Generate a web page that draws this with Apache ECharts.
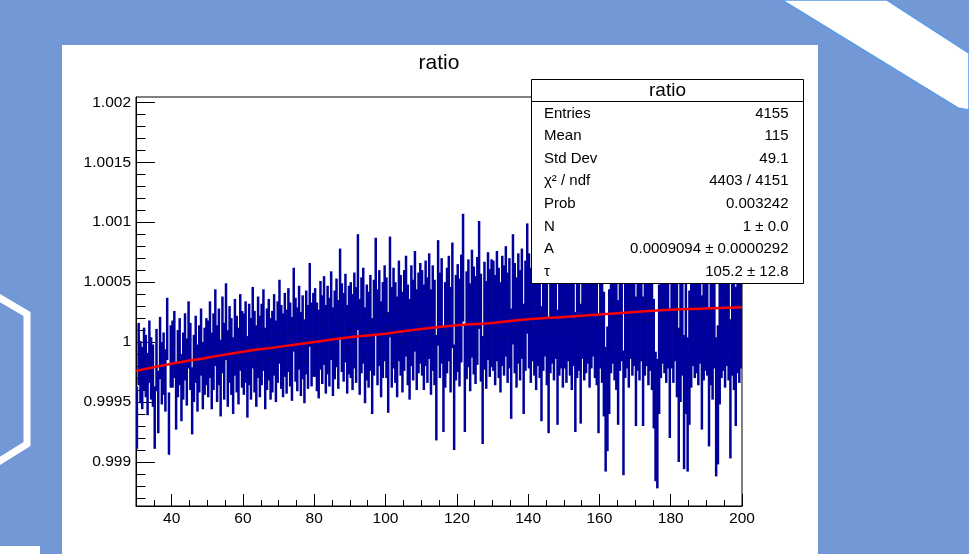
<!DOCTYPE html>
<html><head><meta charset="utf-8">
<script src="https://cdn.jsdelivr.net/npm/echarts@6/dist/echarts.min.js"></script>
<style>html,body{margin:0;padding:0;background:#7398d6}#c{width:969px;height:554px}</style>
</head><body><div id="c"></div>
<script>
// ---------- data ----------
const binStart = 30, binWidth = 0.5;          // histogram bins: 30 .. 200
const DEV_UNIT = 1e-5;                         // bin contents stored as (value - 1) / 1e-5
const binDev = [
 -63,-10,-25,-30,-14,-20,-35,-8,-22,-28,-63,-15,-50,-5,-26,-18,-32,11,-68,-12,
 -10,-2,-45,-18,-8,-38,-20,-4,-25,6,-12,-49,-22,-6,-30,-14,0,-28,-16,-8,
 -14,2,-24,-8,12,-18,-4,-30,6,-16,17,-22,-2,-12,-28,4,-10,-20,8,-6,
 -10,0,-29,-2,-14,12,-8,-20,4,-12,-2,10,-22,-6,2,-14,-8,6,-16,0,
 17,-4,-11,6,-8,10,-2,-14,27,2,-6,12,-10,4,-16,8,-4,31,-2,6,
 8,-4,-10,14,2,18,-6,10,0,22,-8,6,16,-2,41,12,4,20,-6,10,
 10,0,18,6,50,-4,14,22,-11,8,2,16,-20,12,47,4,20,-6,10,24,
 12,-17,46,4,20,8,-4,26,14,0,18,30,6,-6,22,10,34,2,16,24,
 16,4,24,10,30,0,20,8,-38,41,14,26,-31,6,18,28,2,39,-46,12,
 20,8,28,62,-30,14,24,4,32,18,10,26,56,12,-40,22,6,30,16,24,
 22,10,30,16,4,26,18,34,12,24,-18,44,20,8,28,14,32,-14,22,53,
 26,14,32,20,8,28,18,-18,24,36,12,-28,22,30,16,34,-21,20,26,10,
 28,16,34,22,10,30,-25,20,26,-18,36,18,24,32,12,28,38,20,14,-26,
 30,18,-10,-56,-39,-8,26,34,20,12,-17,28,36,-59,22,30,14,38,24,32,
 -16,30,22,38,-16,26,34,18,30,14,-18,-62,-68,-6,24,36,28,20,32,-26,
 34,22,40,10,-44,6,28,-50,-4,-52,-13,18,36,26,30,20,38,-17,24,32,
 30,-29,22,10,36,-54,-44,6,28,34,20,38,26,-39,30,18,-12,32,24,36
];
// bin errors (same units), one reading per 10-unit range of x
const errRangeWidth = 10;
const binErrDev = [26,28,32,34,35,37,40,42,44,45,46,48,50,52,54,56,58];

const fitX = [30,40,50,60,70,80,90,100,110,120,130,140,150,160,170,180,190,200];
const fitY = [0.99976,0.99982,0.99987,0.99992,0.99996,1.00000,1.00004,1.00007,1.00011,
              1.00014,1.00016,1.00019,1.00021,1.00023,1.00025,1.00027,1.00028,1.00029];

const xTickValues = [40,60,80,100,120,140,160,180,200];
const xTickLabels = ['40','60','80','100','120','140','160','180','200'];
const xMinorStep = 5;
const yTickValues = [0.999,0.9995,1,1.0005,1.001,1.0015,1.002];
const yTickLabels = ['0.999','0.9995','1','1.0005','1.001','1.0015','1.002'];
const yMinorStep = 0.0001;

const titleText = 'ratio';
const statsTitle = 'ratio';
const statsNames = ['Entries','Mean','Std Dev','\u03c7\u00b2 / ndf','Prob','N','A','\u03c4'];
const statsValues = ['4155','115','49.1','4403 / 4151','0.003242','1 \u00b1 0.0','0.0009094 \u00b1 0.0000292','105.2 \u00b1 12.8'];

// ---------- build ----------
const X_MIN = 30, X_MAX = 200, Y_MIN = 0.998633, Y_MAX = 1.002044;
const histData = binDev.map((d, i) => {
  const x = binStart + binWidth * (i + 0.5);
  const e = binErrDev[Math.min(binErrDev.length - 1, Math.floor((x - binStart) / errRangeWidth))];
  const c = 1 + d * DEV_UNIT;
  return [x, c - e * DEV_UNIT, c + e * DEV_UNIT, c];
});
const fitData = fitX.map((x, i) => [x, fitY[i]]);
const xMinor = []; for (let v = X_MIN + xMinorStep; v < X_MAX; v += xMinorStep) xMinor.push(v);
const yMinor = []; for (let k = 0; k <= 40; k++) { const v = +(0.9986 + k * yMinorStep).toFixed(4); if (v > Y_MIN && v < Y_MAX) yMinor.push(v); }

const FONT = '"Liberation Sans", Arial, Helvetica, sans-serif';
const lab = (vals, labels) => v => { const i = vals.findIndex(t => Math.abs(t - v) < 1e-9); return i < 0 ? '' : labels[i]; };

const gl = {left: 136, top: 97, width: 606, height: 409};
const sb = {x: 531.5, y: 79.5, w: 272, h: 204};
const graphics = [
  {type:'polygon', z:-20, shape:{points:[[782,0],[887,0],[969,53],[969,110],[958,108]]}, style:{fill:'#ffffff', stroke:'#5b9be6', lineWidth:1.5}},
  {type:'polyline', z:-20, shape:{points:[[-2,297],[27,314],[27,444],[-2,462]]}, style:{stroke:'#ffffff', lineWidth:7, fill:null}},
  {type:'rect', z:-20, shape:{x:0, y:546, width:40, height:10}, style:{fill:'#ffffff'}},
  {type:'rect', z:-10, shape:{x:62, y:45, width:756, height:520}, style:{fill:'#ffffff'}},
  {type:'text', z:50, style:{text:titleText, x:439, y:63, align:'center', verticalAlign:'middle', font:'21px ' + FONT, fill:'#000'}},
  {type:'rect', z:100, shape:{x:sb.x, y:sb.y, width:sb.w, height:sb.h}, style:{fill:'#ffffff', stroke:'#000', lineWidth:1}},
  {type:'line', z:101, shape:{x1:sb.x, y1:101.5, x2:sb.x + sb.w, y2:101.5}, style:{stroke:'#000', lineWidth:1}},
  {type:'text', z:101, style:{text:statsTitle, x:sb.x + sb.w/2, y:91, align:'center', verticalAlign:'middle', font:'19px ' + FONT, fill:'#000'}}
];
statsNames.forEach((n, i) => {
  const y = 113.5 + i * 22.6;
  graphics.push({type:'text', z:101, style:{text:n, x:544, y:y, align:'left', verticalAlign:'middle', font:'15px ' + FONT, fill:'#000'}});
  graphics.push({type:'text', z:101, style:{text:statsValues[i], x:788.5, y:y, align:'right', verticalAlign:'middle', font:'15px ' + FONT, fill:'#000'}});
});

const chart = echarts.init(document.getElementById('c'), null, {renderer:'canvas'});
chart.setOption({
  backgroundColor:'#7398d6',
  animation:false,
  textStyle:{fontFamily:FONT},
  grid:{...gl, show:true, borderColor:'#000', borderWidth:1, backgroundColor:'transparent', containLabel:false},
  xAxis:[
    {type:'value', min:X_MIN, max:X_MAX, position:'bottom',
     axisLine:{show:true, lineStyle:{color:'#000', width:1}},
     axisTick:{show:true, inside:true, length:12, customValues:xTickValues, lineStyle:{color:'#000', width:1}},
     axisLabel:{show:true, customValues:xTickValues, formatter:lab(xTickValues, xTickLabels), color:'#000', fontSize:15.5, fontFamily:FONT, margin:5},
     splitLine:{show:false}},
    {type:'value', min:X_MIN, max:X_MAX, position:'bottom',
     axisLine:{show:false},
     axisTick:{show:true, inside:true, length:6, customValues:xMinor, lineStyle:{color:'#000', width:1}},
     axisLabel:{show:false}, splitLine:{show:false}}
  ],
  yAxis:[
    {type:'value', min:Y_MIN, max:Y_MAX, position:'left',
     axisLine:{show:true, lineStyle:{color:'#000', width:1}},
     axisTick:{show:true, inside:true, length:19, customValues:yTickValues, lineStyle:{color:'#000', width:1}},
     axisLabel:{show:true, customValues:yTickValues, formatter:lab(yTickValues, yTickLabels), color:'#000', fontSize:15.5, fontFamily:FONT, margin:5},
     splitLine:{show:false}},
    {type:'value', min:Y_MIN, max:Y_MAX, position:'left',
     axisLine:{show:false},
     axisTick:{show:true, inside:true, length:9.5, customValues:yMinor, lineStyle:{color:'#000', width:1}},
     axisLabel:{show:false}, splitLine:{show:false}}
  ],
  series:[
    {type:'custom', name:'ratio', xAxisIndex:0, yAxisIndex:0, clip:true, z:3,
     data:histData, encode:{x:0, y:[1,2]},
     renderItem:(params, api) => {
       const x = api.value(0);
       const p1 = api.coord([x, api.value(1)]);
       const p2 = api.coord([x, api.value(2)]);
       const pc = api.coord([x, api.value(3)]);
       return {type:'group', children:[
         {type:'line', shape:{x1:p1[0], y1:p1[1], x2:p2[0], y2:p2[1]}, style:{stroke:'#00009c', lineWidth:2.5}},
         {type:'rect', shape:{x:pc[0]-0.5, y:pc[1]-0.5, width:1, height:1}, style:{fill:'#000000'}}
       ]};
     }},
    {type:'line', name:'fit', xAxisIndex:0, yAxisIndex:0, data:fitData, smooth:true, showSymbol:false, z:5,
     lineStyle:{color:'#ff0000', width:2.5}}
  ],
  graphic:graphics
});
</script></body></html>
